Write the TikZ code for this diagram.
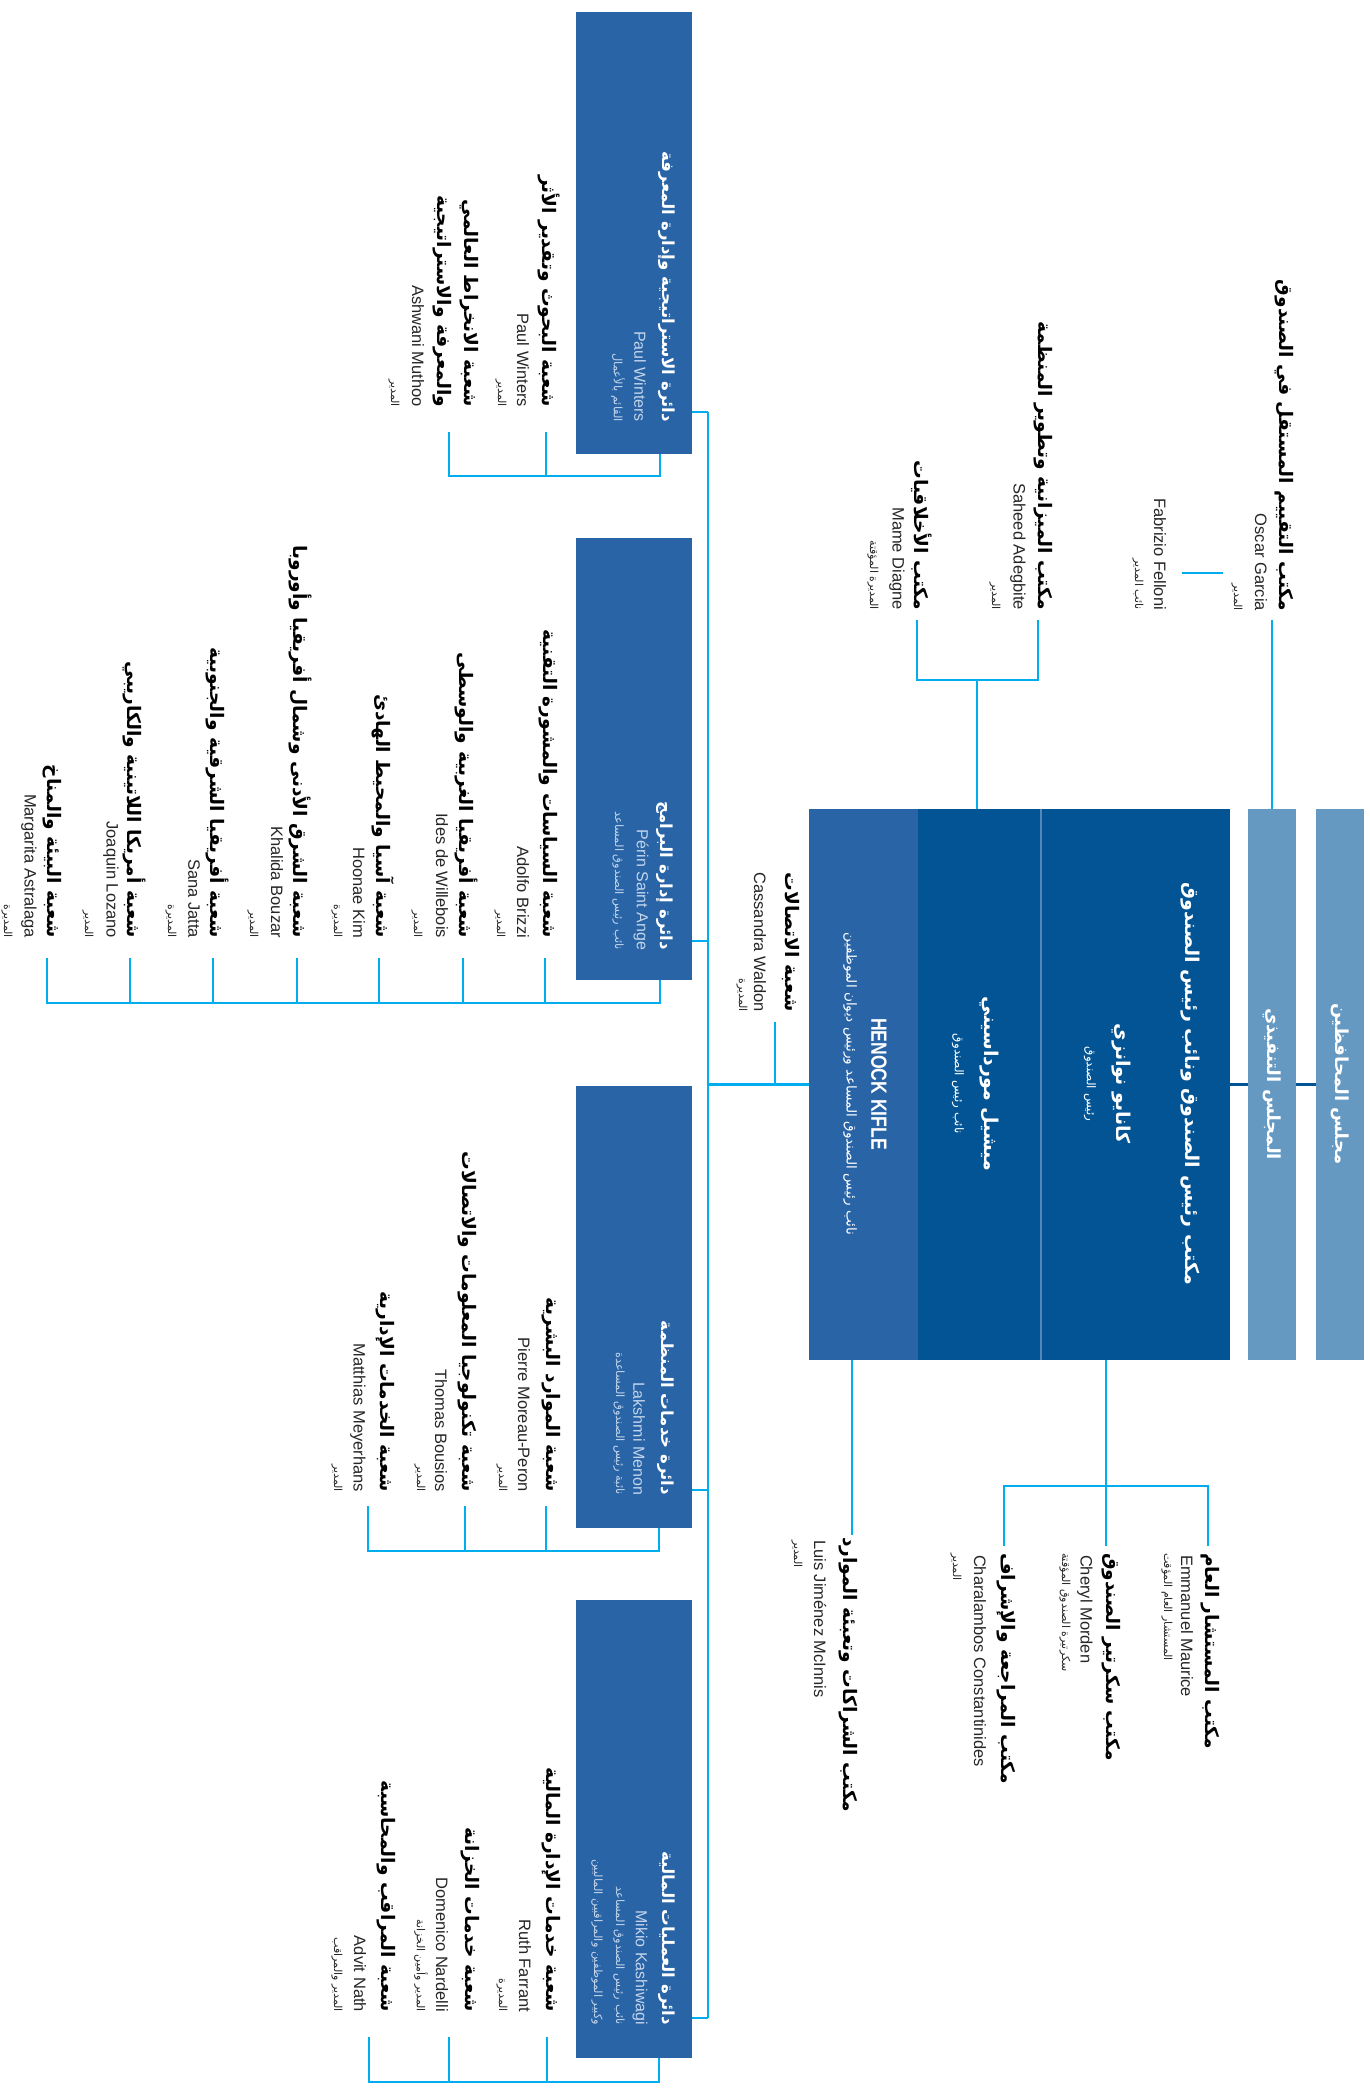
\documentclass[tikz,border=0pt]{standalone}
\usepackage{fontspec}
\setmainfont{Liberation Sans}
\newfontfamily\ar[Script=Arabic]{DejaVu Sans}
\newfontfamily\lat{Liberation Sans}
\TeXXeTstate=1
\newcommand{\artx}[1]{\beginR#1\endR}
\definecolor{cyanl}{RGB}{0,174,239}
\definecolor{boxblue}{RGB}{41,100,166}
\definecolor{darkblue}{RGB}{3,84,148}
\definecolor{lightblue}{RGB}{102,153,194}
\definecolor{sepblue}{RGB}{85,135,185}
\definecolor{paleblue}{RGB}{195,213,236}
\tikzset{
  lbl/.style={rotate=-90, inner sep=0pt, outer sep=0pt},
  ttl/.style={lbl, font={\ar\bfseries\fontsize{9.3pt}{11pt}\selectfont}},
  nm/.style={lbl, font={\lat\fontsize{8.25pt}{10pt}\selectfont}, text=black!85},
  rl/.style={lbl, font={\ar\fontsize{5.5pt}{6.5pt}\selectfont}, text=black!85},
  dttl/.style={lbl, font={\ar\bfseries\fontsize{8.3pt}{10pt}\selectfont}, text=white},
  dnm/.style={lbl, font={\lat\fontsize{8pt}{10pt}\selectfont}, text=paleblue},
  drl/.style={lbl, font={\ar\fontsize{5.7pt}{7pt}\selectfont}, text=paleblue},
  mttl/.style={lbl, font={\ar\bfseries\fontsize{9.5pt}{12pt}\selectfont}, text=white},
  bttl/.style={lbl, font={\ar\bfseries\fontsize{9pt}{11pt}\selectfont}, text=white},
  mrl/.style={lbl, font={\ar\fontsize{6pt}{7pt}\selectfont}, text=white},
  blk/.style={draw=none, inner sep=0pt, outer sep=0pt, anchor=north west},
  conn/.style={draw=cyanl, line width=1.4pt, line join=miter},
  dconn/.style={draw=darkblue, line width=1.4pt},
  be/.style={anchor=east},
  tw/.style={anchor=west}
}
\begin{document}
\begin{tikzpicture}[x=0.5pt, y=-0.5pt]
\useasboundingbox (0,0) rectangle (1370,2098);
\fill[white] (0,0) rectangle (1370,2098);

% ---------- main blocks ----------
\node[blk, fill=boxblue, minimum width=54.5pt, minimum height=275.5pt] (henock) at (809,809) {};
\node[blk, fill=darkblue, minimum width=61pt, minimum height=275.5pt] (michel) at (918,809) {};
\node[blk, fill=sepblue, minimum width=1pt, minimum height=275.5pt] (sep) at (1040,809) {};
\node[blk, fill=darkblue, minimum width=94pt, minimum height=275.5pt] (kanayo) at (1042,809) {};
\node[blk, fill=lightblue, minimum width=24pt, minimum height=275.5pt] (board) at (1248,809) {};
\node[blk, fill=lightblue, minimum width=24pt, minimum height=275.5pt] (council) at (1316,809) {};

\node[blk, fill=boxblue, minimum width=58pt, minimum height=221pt] (strat) at (576,12) {};
\node[blk, fill=boxblue, minimum width=58pt, minimum height=221pt] (prog) at (576,538) {};
\node[blk, fill=boxblue, minimum width=58pt, minimum height=221pt] (corp) at (576,1086) {};
\node[blk, fill=boxblue, minimum width=58pt, minimum height=229pt] (fin) at (576,1600) {};

% ---------- main block texts ----------
\node[mttl] (kaT) at (1190,1084) {\artx{مكتب رئيس الصندوق ونائب رئيس الصندوق}};
\node[mttl] (kaN) at (1121,1084) {\artx{كانايو نوانزي}};
\node[mrl] (kaR) at (1090,1084) {\artx{رئيس الصندوق}};
\node[mttl] (miN) at (989,1084) {\artx{ميشيل مورداسيني}};
\node[mrl] (miR) at (958,1084) {\artx{نائب رئيس الصندوق}};
\node[lbl, text=white, font={\lat\bfseries\fontsize{11pt}{13pt}\selectfont}] (heN) at (879,1084) {\scalebox{0.8}[1]{HENOCK KIFLE}};
\node[mrl, font={\ar\fontsize{6.8pt}{8pt}\selectfont}] (heR) at (850,1084) {\artx{نائب رئيس الصندوق المساعد ورئيس ديوان الموظفين}};
\node[bttl] (boT) at (1272,1084) {\artx{المجلس التنفيذي}};
\node[bttl] (coT) at (1340,1084) {\artx{مجلس المحافظين}};

% ---------- top right offices ----------
\node[ttl, be] (osT) at (1284,611) {\artx{مكتب التقييم المستقل في الصندوق}};
\node[nm, be] (osN) at (1261,611) {Oscar Garcia};
\node[rl, be] (osR) at (1237,611) {\artx{المدير}};
\node[nm, be] (faN) at (1160,610) {Fabrizio Felloni};
\node[rl, be] (faR) at (1138,610) {\artx{نائب المدير}};
\node[ttl, be] (buT) at (1043,610) {\artx{مكتب الميزانية وتطوير المنظمة}};
\node[nm, be] (buN) at (1018,610) {Saheed Adegbite};
\node[rl, be] (buR) at (995,610) {\artx{المدير}};
\node[ttl, be] (etT) at (922,610) {\artx{مكتب الأخلاقيات}};
\node[nm, be] (etN) at (897,610) {Mame Diagne};
\node[rl, be] (etR) at (873,610) {\artx{المديرة المؤقتة}};

% ---------- communications ----------
\node[ttl, be] (caT) at (791,1012) {\artx{شعبة الاتصالات}};
\node[nm, be] (caN) at (760,1012) {Cassandra Waldon};
\node[rl, be] (caR) at (742,1012) {\artx{المديرة}};

% ---------- lower right offices ----------
\node[ttl, tw] (gcT) at (1210,1553) {\artx{مكتب المستشار العام}};
\node[nm, tw] (gcN) at (1187,1555) {Emmanuel Maurice};
\node[rl, tw] (gcR) at (1167,1553) {\artx{المستشار العام المؤقت}};
\node[ttl, tw] (seT) at (1111,1553) {\artx{مكتب سكرتير الصندوق}};
\node[nm, tw] (seN) at (1085,1555) {Cheryl Morden};
\node[rl, tw] (seR) at (1065,1553) {\artx{سكرتيرة الصندوق المؤقتة}};
\node[ttl, tw] (auT) at (1006,1553) {\artx{مكتب المراجعة والإشراف}};
\node[nm, tw] (auN) at (980,1555) {Charalambos Constantinides};
\node[rl, tw] (auR) at (956,1553) {\artx{المدير}};
\node[ttl, tw] (luT) at (848,1537) {\artx{مكتب الشراكات وتعبئة الموارد}};
\node[nm, tw] (luN) at (820,1540) {Luis Jiménez McInnis};
\node[rl, tw] (luR) at (797,1540) {\artx{المدير}};

% ---------- department box texts ----------
\node[dttl, be] (stT) at (667,422) {\artx{دائرة الاستراتيجية وإدارة المعرفة}};
\node[dnm, be] (stN) at (640,422) {Paul Winters};
\node[drl, be] (stR) at (618,422) {\artx{القائم بالأعمال}};
\node[dttl, be] (prT) at (665,950) {\artx{دائرة إدارة البرامج}};
\node[dnm, be] (prN) at (641,950) {Périn Saint Ange};
\node[drl, be] (prR) at (618,950) {\artx{نائب رئيس الصندوق المساعد}};
\node[dttl, be] (cpT) at (666,1495) {\artx{دائرة خدمات المنظمة}};
\node[dnm, be] (cpN) at (639,1495) {Lakshmi Menon};
\node[drl, be] (cpR) at (619,1495) {\artx{نائبة رئيس الصندوق المساعدة}};
\node[dttl, be] (fiT) at (667,2025) {\artx{دائرة العمليات المالية}};
\node[dnm, be] (fiN) at (640,2025) {Mikio Kashiwagi};
\node[drl, be] (fiR) at (619,2025) {\artx{نائب رئيس الصندوق المساعد}};
\node[drl, be] (fiR2) at (597,2025) {\artx{وكبير الموظفين والمراقبين الماليين}};

% ---------- strategy units ----------
\node[ttl, be] (s1T) at (549,407) {\artx{شعبة البحوث وتقدير الأثر}};
\node[nm, be] (s1N) at (523,407) {Paul Winters};
\node[rl, be] (s1R) at (501,407) {\artx{المدير}};
\node[ttl, be] (s2T) at (469,407) {\artx{شعبة الانخراط العالمي}};
\node[ttl, be] (s2T2) at (442,407) {\artx{والمعرفة والاستراتيجية}};
\node[nm, be] (s2N) at (418,407) {Ashwani Muthoo};
\node[rl, be] (s2R) at (394,407) {\artx{المدير}};

% ---------- programme units ----------
\node[ttl, be] (p1T) at (548,938) {\artx{شعبة السياسات والمشورة التقنية}};
\node[nm, be] (p1N) at (523,938) {Adolfo Brizzi};
\node[rl, be] (p1R) at (500,938) {\artx{المدير}};
\node[ttl, be] (p2T) at (466,938) {\artx{شعبة أفريقيا الغربية والوسطى}};
\node[nm, be] (p2N) at (442,938) {Ides de Willebois};
\node[rl, be] (p2R) at (417,938) {\artx{المدير}};
\node[ttl, be] (p3T) at (383,938) {\artx{شعبة آسيا والمحيط الهادئ}};
\node[nm, be] (p3N) at (359,938) {Hoonae Kim};
\node[rl, be] (p3R) at (337,938) {\artx{المديرة}};
\node[ttl, be] (p4T) at (300,938) {\artx{شعبة الشرق الأدنى وشمال أفريقيا وأوروبا}};
\node[nm, be] (p4N) at (277,938) {Khalida Bouzar};
\node[rl, be] (p4R) at (253,938) {\artx{المدير}};
\node[ttl, be] (p5T) at (217,938) {\artx{شعبة أفريقيا الشرقية والجنوبية}};
\node[nm, be] (p5N) at (194,938) {Sana Jatta};
\node[rl, be] (p5R) at (171,938) {\artx{المديرة}};
\node[ttl, be] (p6T) at (134,938) {\artx{شعبة أمريكا اللاتينية والكاريبي}};
\node[nm, be] (p6N) at (111,938) {Joaquin Lozano};
\node[rl, be] (p6R) at (88,938) {\artx{المدير}};
\node[ttl, be] (p7T) at (52,938) {\artx{شعبة البيئة والمناخ}};
\node[nm, be] (p7N) at (29,938) {Margarita Astralaga};
\node[rl, be] (p7R) at (7,938) {\artx{المديرة}};

% ---------- corporate units ----------
\node[ttl, be] (c1T) at (551,1492) {\artx{شعبة الموارد البشرية}};
\node[nm, be] (c1N) at (524,1492) {Pierre Moreau-Peron};
\node[rl, be] (c1R) at (502,1492) {\artx{المدير}};
\node[ttl, be] (c2T) at (467,1492) {\artx{شعبة تكنولوجيا المعلومات والاتصالات}};
\node[nm, be] (c2N) at (441,1492) {Thomas Bousios};
\node[rl, be] (c2R) at (420,1492) {\artx{المدير}};
\node[ttl, be] (c3T) at (385,1492) {\artx{شعبة الخدمات الإدارية}};
\node[nm, be] (c3N) at (358,1492) {Matthias Meyerhans};
\node[rl, be] (c3R) at (337,1492) {\artx{المدير}};

% ---------- finance units ----------
\node[ttl, be] (f1T) at (551,2012) {\artx{شعبة خدمات الإدارة المالية}};
\node[nm, be] (f1N) at (525,2012) {Ruth Farrant};
\node[rl, be] (f1R) at (502,2012) {\artx{المديرة}};
\node[ttl, be] (f2T) at (470,2012) {\artx{شعبة خدمات الخزانة}};
\node[nm, be] (f2N) at (442,2012) {Domenico Nardelli};
\node[rl, be] (f2R) at (421,2012) {\artx{المدير وأمين الخزانة}};
\node[ttl, be] (f3T) at (386,2012) {\artx{شعبة المراقب والمحاسبة}};
\node[nm, be] (f3N) at (360,2012) {Advit Nath};
\node[rl, be] (f3R) at (337,2012) {\artx{المدير والمراقب}};

% ---------- connector coordinates ----------
\coordinate (tS) at (708,412);
\coordinate (tP) at (708,941);
\coordinate (tH) at (708,1084.5);
\coordinate (tC) at (708,1490);
\coordinate (tF) at (708,2018);
\coordinate (cC) at (775,1022);
\coordinate (oC) at (1272,620);
\coordinate (faA) at (1182,573);
\coordinate (faB) at (1223,573);
\coordinate (buC) at (1038,620);
\coordinate (etC) at (917,620);
\coordinate (beJ) at (977,680);
\coordinate (lrJ) at (1106,1486);
\coordinate (gcC) at (1208,1546);
\coordinate (seC) at (1106,1546);
\coordinate (auC) at (1004,1546);
\coordinate (luC) at (852,1535);

% trunk and departments
\draw[conn] (tS) -- (tF);
\draw[conn] (tS -| strat.east) -- (tS);
\draw[conn] (tP -| prog.east) -- (tP);
\draw[conn] (tC -| corp.east) -- (tC);
\draw[conn] (tF -| fin.east) -- (tF);
\draw[conn] (tH) -- (henock.west);
\draw[conn] (cC) -- (cC |- tH);

% top right
\draw[conn] (oC) -- (oC |- board.north);
\draw[conn] (faA) -- (faB);
\draw[conn] (buC) -- (buC |- beJ) -- (etC |- beJ) -- (etC);
\draw[conn] (beJ) -- (beJ |- michel.north);
\draw[dconn] (kanayo.east) -- (board.west);
\draw[dconn] (board.east) -- (council.west);

% lower right
\draw[conn] (lrJ |- kanayo.south) -- (lrJ);
\draw[conn] (gcC) -- (gcC |- lrJ) -- (auC |- lrJ) -- (auC);
\draw[conn] (seC) -- (lrJ);
\draw[conn] (luC |- henock.south) -- (luC);

% strategy bus
\draw[conn] (546,432) -- (546,476);
\draw[conn] (449,432) -- (449,476) -- (660,476) -- (strat.south -| 660,476);

% programme bus
\foreach \xx in {545,463,379,297,213,130} \draw[conn] (\xx,958) -- (\xx,1003);
\draw[conn] (47,958) -- (47,1003) -- (660,1003) -- (prog.south -| 660,1003);

% corporate bus
\foreach \xx in {546,465} \draw[conn] (\xx,1506) -- (\xx,1551);
\draw[conn] (368,1506) -- (368,1551) -- (659,1551) -- (corp.south -| 659,1551);

% finance bus
\foreach \xx in {547,449} \draw[conn] (\xx,2037) -- (\xx,2082);
\draw[conn] (369,2037) -- (369,2082) -- (659,2082) -- (fin.south -| 659,2082);
\end{tikzpicture}
\end{document}
